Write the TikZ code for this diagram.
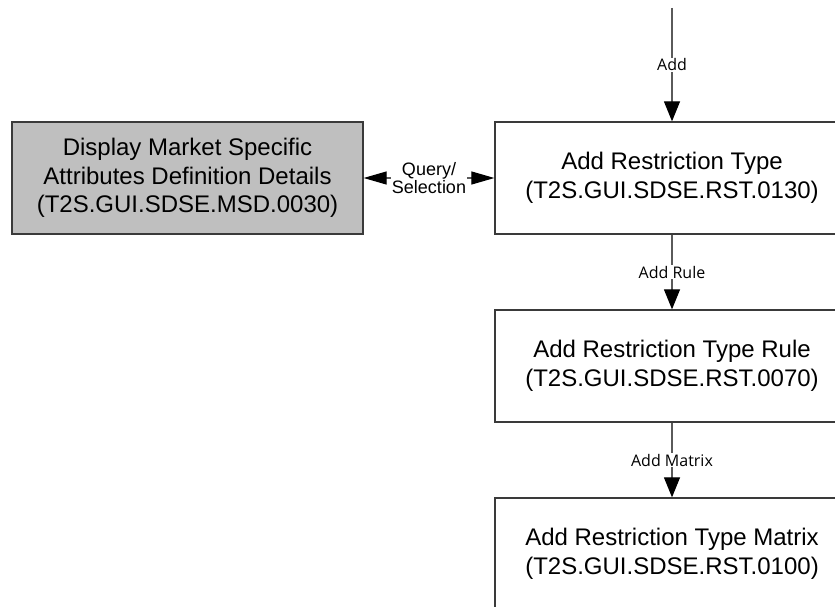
\documentclass[tikz,border=0pt]{standalone}
\usepackage{fontspec}
\setmainfont{Liberation Sans}
\newfontfamily\labelfont{Open Sans}
\usetikzlibrary{arrows.meta}
\definecolor{boxline}{HTML}{3A3A3A}
\definecolor{connline}{HTML}{5A5A5A}
\definecolor{grayfill}{HTML}{BFBFBF}
\begin{document}
\begin{tikzpicture}[x=1pt,y=-1pt,
  box/.style={draw=boxline, line width=1.3pt, minimum width=354pt, minimum height=112pt,
    align=center, inner sep=0pt, font=\fontsize{24}{28.5}\selectfont},
  graybox/.style={box, fill=grayfill, minimum width=351pt},
  conn/.style={draw=connline, line width=1.2pt, -{Triangle[length=20pt,width=16pt,color=black]}},
  biconn/.style={draw=connline, line width=1.2pt,
    {Triangle[length=23pt,width=13pt,color=black]}-{Triangle[length=23pt,width=13pt,color=black]}},
  lbl/.style={fill=white, inner sep=1pt, font=\labelfont\fontsize{16}{18}\selectfont},
  qlbl/.style={fill=white, inner sep=1pt, align=center, font=\fontsize{18}{16}\selectfont}
]
\useasboundingbox (0,0) rectangle (835,607);
\node[graybox] (msd) at (187.5,178) {Display Market Specific\\Attributes Definition Details\\(T2S.GUI.SDSE.MSD.0030)};
\node[box] (rst130) at (672,178) {Add Restriction Type\\(T2S.GUI.SDSE.RST.0130)};
\node[box] (rst070) at (672,366) {Add Restriction Type Rule\\(T2S.GUI.SDSE.RST.0070)};
\node[box] (rst100) at (672,554) {Add Restriction Type Matrix\\(T2S.GUI.SDSE.RST.0100)};
\coordinate (top) at (672,8);
\draw[conn] (top) -- node[lbl] {Add} (rst130);
\draw[conn] (rst130) -- node[lbl] {Add Rule} (rst070);
\draw[conn] (rst070) -- node[lbl] {Add Matrix} (rst100);
\draw[biconn] (msd) -- node[qlbl] {Query/\\Selection} (rst130);
\end{tikzpicture}
\end{document}
